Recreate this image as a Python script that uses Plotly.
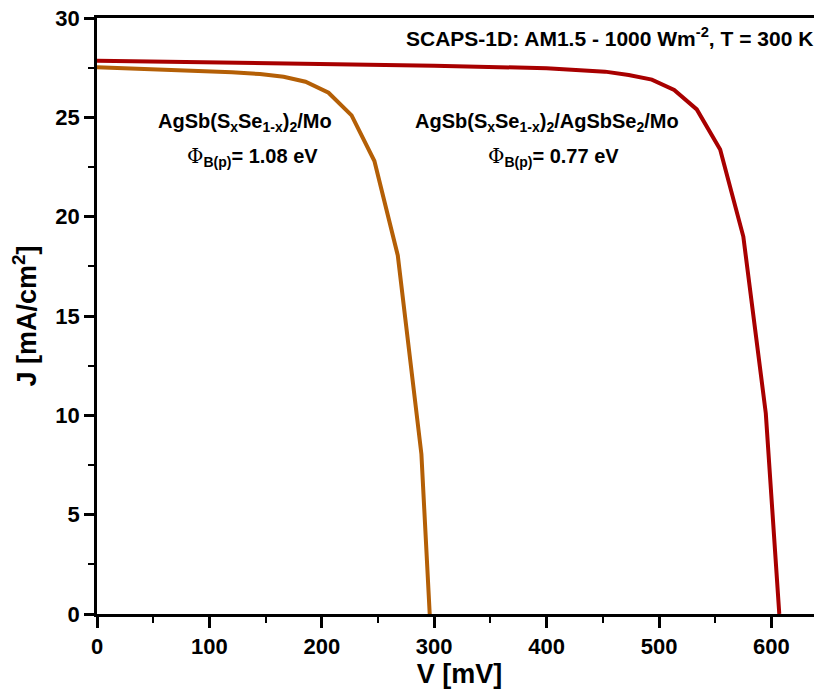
import plotly.graph_objects as go

# Data
v_mo = [0, 40, 80, 120, 145, 166, 185.5, 206, 226.5, 246.8, 267.6, 288.6, 296]
j_mo = [27.52, 27.45, 27.37, 27.27, 27.18, 27.04, 26.79, 26.24, 25.1, 22.8, 18.05, 8.05, 0]

v_se = [0, 100, 200, 300, 400, 452, 473, 493.6, 513.5, 533.6, 554.4, 575, 595, 607]
j_se = [27.85, 27.78, 27.7, 27.6, 27.47, 27.3, 27.13, 26.9, 26.38, 25.4, 23.38, 19.0, 10.1, 0]

x_ticks = [0, 100, 200, 300, 400, 500, 600]
y_ticks = [0, 5, 10, 15, 20, 25, 30]

FONT = "Liberation Sans, Arial, sans-serif"
PHI = "<span style=\"font-weight:normal;font-family:'DejaVu Serif'\">Φ</span>"

fig = go.Figure()
fig.add_trace(go.Scatter(x=v_mo, y=j_mo, mode="lines",
                         line=dict(color="#b45f06", width=4), showlegend=False))
fig.add_trace(go.Scatter(x=v_se, y=j_se, mode="lines",
                         line=dict(color="#a80000", width=4), showlegend=False))

fig.update_layout(
    width=814, height=681,
    margin=dict(l=89, r=0, t=10, b=75, autoexpand=False),
    plot_bgcolor="white", paper_bgcolor="white",
    font=dict(family=FONT, size=20, color="black"),
    xaxis=dict(
        range=[0, 645], tickvals=x_ticks, ticks="outside", ticklen=11, tickwidth=2.5,
        tickcolor="black", showline=True, linecolor="black", linewidth=2.5,
        mirror=True, showgrid=False, zeroline=False, automargin=False,
        ticklabeloverflow="allow",
        tickfont=dict(family=FONT, size=22, color="black", weight="bold"),
        minor=dict(dtick=50, tick0=0, ticks="outside", ticklen=6, tickwidth=2, tickcolor="black"),
        title=dict(text="<b>V [mV]</b>", font=dict(size=27, family=FONT)),
    ),
    yaxis=dict(
        range=[0, 30], tickvals=y_ticks, ticks="outside", ticklen=10, tickwidth=2.5,
        tickcolor="black", showline=True, linecolor="black", linewidth=2.5,
        mirror=False, showgrid=False, zeroline=False, automargin=False,
        ticklabeloverflow="allow",
        tickfont=dict(family=FONT, size=22, color="black", weight="bold"),
        minor=dict(dtick=2.5, tick0=0, ticks="outside", ticklen=6, tickwidth=2, tickcolor="black"),
        title=dict(text="<b>J [mA/cm<sup>2</sup>]</b>", font=dict(size=27, family=FONT)),
    ),
)

annots = [
    ("<b>SCAPS-1D: AM1.5 - 1000 Wm<sup>-2</sup>, T = 300 K</b>", 0.707, 0.968, 21),
    ("<b>AgSb(S<sub>x</sub>Se<sub>1-x</sub>)<sub>2</sub>/Mo</b>", 0.204, 0.824, 20),
    (PHI + "<b><sub>B(p)</sub>= 1.08 eV</b>", 0.214, 0.767, 20),
    ("<b>AgSb(S<sub>x</sub>Se<sub>1-x</sub>)<sub>2</sub>/AgSbSe<sub>2</sub>/Mo</b>", 0.621, 0.824, 20),
    (PHI + "<b><sub>B(p)</sub>= 0.77 eV</b>", 0.630, 0.767, 20),
]
for text, x, y, sz in annots:
    fig.add_annotation(text=text, x=x, y=y, xref="paper", yref="paper",
                       xanchor="center", yanchor="middle", showarrow=False,
                       font=dict(family=FONT, size=sz, color="black"))

fig.write_html("out.html")
